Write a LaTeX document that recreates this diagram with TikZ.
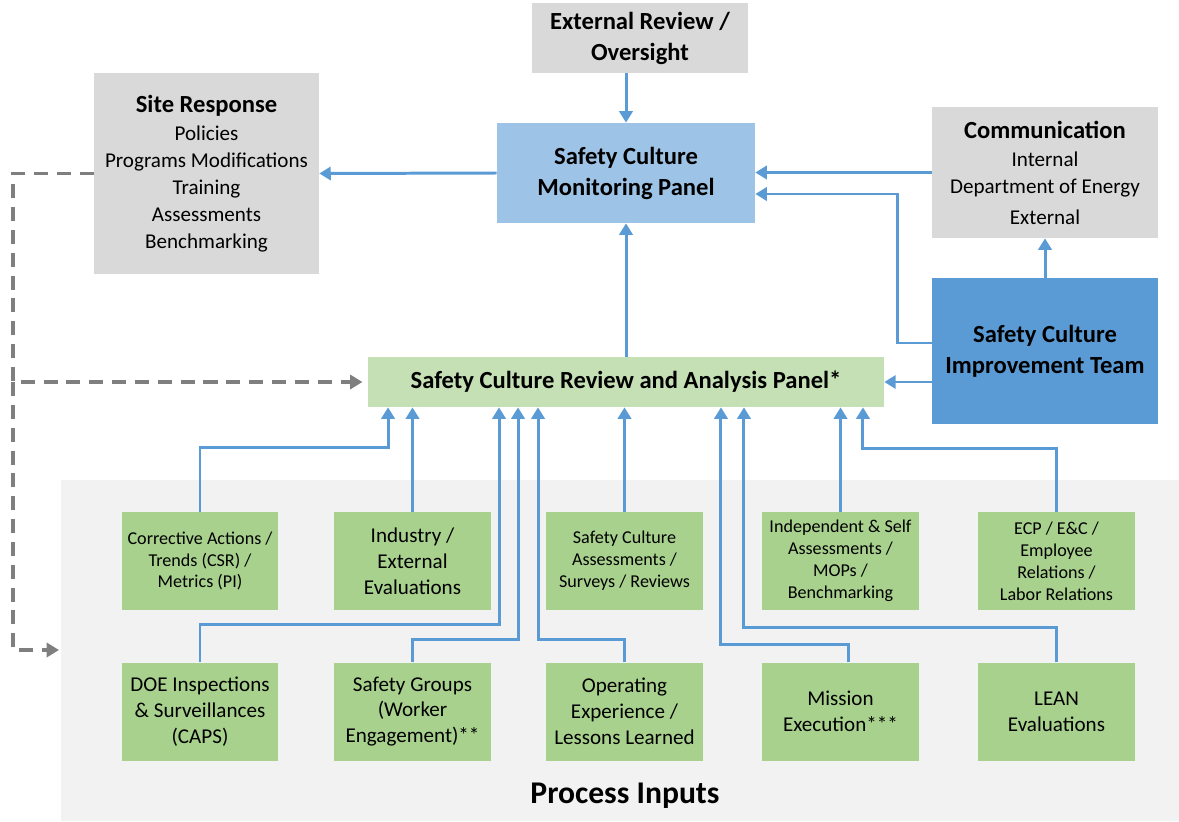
\documentclass[tikz,border=0pt]{standalone}
\usepackage{fontspec}
\setmainfont{Carlito}
\usepackage{tikz}
\usetikzlibrary{arrows.meta}
\pgfdeclarelayer{bg}
\pgfsetlayers{bg,main}

\definecolor{boxgray}{HTML}{D9D9D9}
\definecolor{panelblue}{HTML}{9DC3E6}
\definecolor{teamblue}{HTML}{5B9BD5}
\definecolor{panelgreen}{HTML}{C5E0B4}
\definecolor{inputgreen}{HTML}{A9D18E}
\definecolor{inputbg}{HTML}{F2F2F2}
\definecolor{linkblue}{HTML}{5B9BD5}
\definecolor{dashgray}{HTML}{7F7F7F}

\newcommand{\sctitle}{\fontsize{14}{17.6}\selectfont\bfseries}
\newcommand{\scitem}{\fontsize{12}{15.3}\selectfont}
\newcommand{\scin}{\fontsize{12}{14.7}\selectfont}
\newcommand{\scsmall}{\fontsize{10.3}{12.5}\selectfont}
\newcommand{\scbig}{\fontsize{18}{22}\selectfont\bfseries}

\begin{document}
\begin{tikzpicture}[x=0.02cm, y=-0.02cm,
        every node/.style={align=center, inner sep=0pt},
        grey/.style={fill=boxgray},
        input/.style={fill=inputgreen, minimum width=3.14cm, minimum height=1.96cm, font=\scin},
        link/.style={draw=linkblue, line width=1.7pt, -{Triangle[width=7.5pt,length=6.5pt]}},
        dlink/.style={draw=dashgray, line width=2pt, dash pattern=on 8pt off 5pt, -{Triangle[width=8pt,length=7pt]}}]
        \useasboundingbox (0,0) rectangle (1179,821);

        % panels
        \node (ext) [grey, minimum width=4.32cm, minimum height=1.4cm, font=\sctitle] at (640,38) {External Review /\\Oversight};
        \node (mon) [fill=panelblue, minimum width=5.16cm, minimum height=2cm, font=\sctitle] at (626,173) {Safety Culture\\Monitoring Panel};
        \node (site) [grey, minimum width=4.5cm, minimum height=4.02cm, font=\scitem] at (206.5,173.5) {{\sctitle Site Response}\\[1pt]Policies\\Programs Modifications\\Training\\Assessments\\Benchmarking};
        \node (comm) [grey, minimum width=4.52cm, minimum height=2.62cm, font=\scitem] at (1045,172.5) {{\sctitle Communication}\\[1pt]Internal\\Department of Energy\\[2pt]External};
        \node (team) [fill=teamblue, minimum width=4.52cm, minimum height=2.92cm, font=\sctitle] at (1045,351) {Safety Culture\\Improvement Team};
        \node (rev) [fill=panelgreen, minimum width=10.32cm, minimum height=1cm, font=\sctitle] at (626,382) {Safety Culture Review and Analysis Panel*};

        % process inputs
        \begin{pgfonlayer}{bg}
                \node (inp) [fill=inputbg, minimum width=22.36cm, minimum height=6.82cm] at (620,650.5) {};
        \end{pgfonlayer}
        \node (lbl) [font=\scbig] at (625,796) {Process Inputs};

        \node (a1) [input, font=\scsmall] at (200,561) {Corrective Actions /\\Trends (CSR) /\\Metrics (PI)};
        \node (a2) [input] at (412.5,561) {Industry /\\External\\Evaluations};
        \node (a3) [input, font=\scsmall] at (624.5,561) {Safety Culture\\Assessments /\\Surveys / Reviews};
        \node (a4) [input, font=\scsmall] at (840.5,561) {Independent \& Self\\Assessments /\\MOPs /\\Benchmarking};
        \node (a5) [input, font=\scsmall] at (1056.5,561) {ECP / E\&C /\\Employee\\Relations /\\Labor Relations};
        \node (b1) [input] at (200,711.5) {DOE Inspections\\\& Surveillances\\(CAPS)};
        \node (b2) [input] at (412.5,711.5) {Safety Groups\\(Worker\\Engagement)**};
        \node (b3) [input] at (624.5,711.5) {Operating\\Experience /\\Lessons Learned};
        \node (b4) [input] at (840.5,711.5) {Mission\\Execution***};
        \node (b5) [input] at (1056.5,711.5) {LEAN\\Evaluations};

        \coordinate (dk) at (13,382);
        \coordinate (dt) at (13,650);

        \begin{pgfonlayer}{bg}
                \draw[link] (ext.south -| mon.north) -- (mon.north);
                \draw[link] (mon.west) -- (site.east);
                \draw[link] (comm.west) -- (comm.west -| mon.east);
                \draw[link] ([yshift=0.16cm]team.west) -- ++(-34,0) |- ([yshift=-0.42cm]mon.east);
                \draw[link] (team.north) -- (comm.south);
                \draw[link] (team.west |- rev.east) -- (rev.east);
                \draw[link] (rev.north) -- (mon.south);
                \draw[link] (a1.north) -- ++(0,-64) -| ([xshift=-4.76cm]rev.south);
                \draw[link] (a2.north) -- (a2.north |- rev.south);
                \draw[link] (a3.north) -- (a3.north |- rev.south);
                \draw[link] (a4.north) -- (a4.north |- rev.south);
                \draw[link] (a5.north) -- ++(0,-63) -| ([xshift=4.74cm]rev.south);
                \draw[link] (b1.north) -- ++(0,-38) -| ([xshift=-2.54cm]rev.south);
                \draw[link] (b2.north) -- ++(0,-23) -| ([xshift=-2.16cm]rev.south);
                \draw[link] (b3.north) -- ++(0,-23) -| ([xshift=-1.76cm]rev.south);
                \draw[link] ([xshift=0.15cm]b4.north) -- ++(0,-18) -| ([xshift=1.90cm]rev.south);
                \draw[link] (b5.north) -- ++(0,-35) -| ([xshift=2.36cm]rev.south);
                \draw[dlink, shorten >=3pt] (site.west) -| (dk) -- (rev.west);
                \draw[dlink, shorten >=1pt] (dk) -- (dt) -- (inp.west |- dt);
        \end{pgfonlayer}
\end{tikzpicture}
\end{document}
